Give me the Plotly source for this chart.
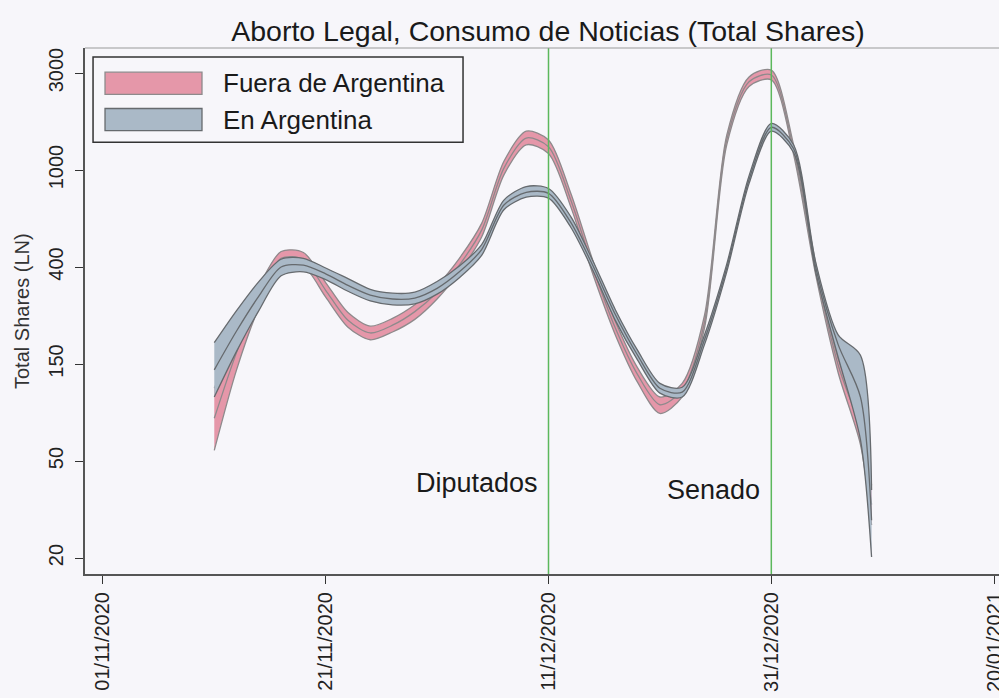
import plotly.graph_objects as go

# fitted ln(total shares) with confidence band, every second day
dates = [
    "2020-11-11", "2020-11-13", "2020-11-15", "2020-11-17", "2020-11-19",
    "2020-11-21", "2020-11-23", "2020-11-25", "2020-11-27", "2020-11-29",
    "2020-12-01", "2020-12-03", "2020-12-05", "2020-12-07", "2020-12-09",
    "2020-12-11", "2020-12-13", "2020-12-15", "2020-12-17", "2020-12-19",
    "2020-12-21", "2020-12-23", "2020-12-25", "2020-12-27", "2020-12-29",
    "2020-12-31", "2021-01-02", "2021-01-04", "2021-01-06", "2021-01-08",
    "2021-01-09",
]

fuera_fit = [4.44, 5.12, 5.69, 6.09, 6.08, 5.76, 5.45, 5.32, 5.40, 5.54,
             5.74, 6.02, 6.38, 7.02, 7.33, 7.24, 6.69, 5.99, 5.37, 4.89,
             4.58, 4.73, 5.43, 7.31, 7.91, 7.98, 7.21, 5.97, 4.99, 4.32,
             3.55]
fuera_hi = [4.75, 5.31, 5.80, 6.16, 6.15, 5.84, 5.53, 5.39, 5.47, 5.61,
            5.81, 6.09, 6.45, 7.09, 7.40, 7.31, 6.76, 6.06, 5.44, 4.96,
            4.66, 4.80, 5.50, 7.36, 7.96, 8.03, 7.26, 6.03, 5.06, 4.47,
            3.75]
fuera_lo = [4.11, 4.94, 5.58, 6.02, 6.01, 5.69, 5.38, 5.25, 5.33, 5.46,
            5.67, 5.95, 6.31, 6.95, 7.26, 7.17, 6.62, 5.92, 5.30, 4.81,
            4.49, 4.66, 5.37, 7.26, 7.86, 7.93, 7.16, 5.91, 4.91, 4.17,
            3.34]

arg_fit = [4.94, 5.34, 5.70, 6.00, 6.02, 5.93, 5.81, 5.71, 5.67, 5.68,
           5.78, 5.95, 6.18, 6.64, 6.77, 6.76, 6.46, 6.01, 5.51, 5.09,
           4.75, 4.71, 5.25, 5.99, 6.90, 7.44, 7.22, 5.99, 5.20, 4.66,
           3.39]
arg_hi = [5.22, 5.55, 5.85, 6.08, 6.09, 5.99, 5.88, 5.77, 5.73, 5.74,
          5.85, 6.01, 6.23, 6.69, 6.83, 6.81, 6.52, 6.06, 5.56, 5.14,
          4.80, 4.76, 5.30, 6.03, 6.94, 7.48, 7.26, 6.04, 5.30, 5.09,
          3.70]
arg_lo = [4.66, 5.13, 5.55, 5.91, 5.95, 5.87, 5.75, 5.65, 5.61, 5.62,
          5.72, 5.89, 6.12, 6.59, 6.72, 6.71, 6.41, 5.96, 5.45, 5.04,
          4.70, 4.66, 5.20, 5.95, 6.86, 7.40, 7.18, 5.94, 5.07, 4.22,
          3.01]

series_names = ["Fuera de Argentina", "En Argentina"]

ytick_vals = [3, 4, 5, 6, 7, 8]
ytick_text = ["20", "50", "150", "400", "1000", "3000"]
xtick_vals = ["2020-11-01", "2020-11-21", "2020-12-11", "2020-12-31", "2021-01-20"]
xtick_text = ["01/11/2020", "21/11/2020", "11/12/2020", "31/12/2020", "20/01/2021"]

events = ["2020-12-11", "2020-12-31"]
event_labels = ["Diputados", "Senado"]
event_label_y = [3.77, 3.70]

BG = "#f7f6fa"
FONT = "Liberation Sans, Arial, sans-serif"
PINK = "#e597a9"
PINK_EDGE = "#8e8a8c"
GREY = "#aab9c7"
GREY_EDGE = "#666a6e"

fig = go.Figure()


def add_band(lo, hi, fit, fill, edge):
    line = dict(color=edge, width=1.3, shape="spline", smoothing=0.8)
    fig.add_trace(go.Scatter(x=dates, y=hi, mode="lines", line=line,
                             showlegend=False, hoverinfo="skip"))
    fig.add_trace(go.Scatter(x=dates, y=lo, mode="lines", line=line,
                             fill="tonexty", fillcolor=fill,
                             showlegend=False, hoverinfo="skip"))
    fig.add_trace(go.Scatter(x=dates, y=fit, mode="lines", line=line,
                             showlegend=False))


add_band(fuera_lo, fuera_hi, fuera_fit, PINK, PINK_EDGE)
add_band(arg_lo, arg_hi, arg_fit, GREY, GREY_EDGE)

# event lines + labels
for d, lab, ly in zip(events, event_labels, event_label_y):
    fig.add_shape(type="line", x0=d, x1=d, y0=0, y1=1, xref="x", yref="paper",
                  line=dict(color="#5cb85c", width=1.5), layer="above")
    fig.add_annotation(x=d, y=ly, text=lab, showarrow=False, xanchor="right",
                       xshift=-9, font=dict(size=27, color="#1a1a1a", family=FONT))

# top frame line
fig.add_shape(type="line", x0=0, x1=1, y0=1, y1=1, xref="paper", yref="paper",
              line=dict(color="#9a9a9a", width=1.2))

# legend box drawn by hand (Stata style wide keys)
fig.add_shape(type="rect", x0=0.0088, x1=0.4136, y0=0.821, y1=0.983,
              xref="paper", yref="paper", line=dict(color="#333333", width=1.5),
              fillcolor=BG, layer="above")
for i, (name, col, edge) in enumerate(zip(series_names, [PINK, GREY], [PINK_EDGE, GREY_EDGE])):
    top = 0.954 - i * 0.069
    fig.add_shape(type="rect", x0=0.0219, x1=0.128, y0=top - 0.042, y1=top,
                  xref="paper", yref="paper", line=dict(color=edge, width=1.3),
                  fillcolor=col, layer="above")
    fig.add_annotation(x=0.149, y=top - 0.021, xref="paper", yref="paper",
                       text=name, showarrow=False, xanchor="left", yanchor="middle",
                       font=dict(size=26, color="#1a1a1a", family=FONT))

# y axis title
fig.add_annotation(x=0, y=0.5, xref="paper", yref="paper", xshift=-63,
                   xanchor="center", yanchor="middle",
                   text="Total Shares (LN)", textangle=-90, showarrow=False,
                   font=dict(size=20, color="#333333", family=FONT))

fig.update_xaxes(
    type="date",
    range=["2020-10-30 09:30", "2021-01-20 10:30"],
    tickmode="array", tickvals=xtick_vals, ticktext=xtick_text,
    tickangle=-90, ticks="outside", ticklen=8, tickcolor="#333333",
    tickfont=dict(size=20, color="#222222", family=FONT),
    ticklabeloverflow="allow", automargin=False,
    showgrid=False, zeroline=False,
    showline=True, linecolor="#555555", linewidth=2,
)
fig.update_yaxes(
    range=[2.835, 8.258],
    tickmode="array", tickvals=ytick_vals, ticktext=ytick_text,
    tickangle=-90, ticks="outside", ticklen=8, tickcolor="#333333",
    tickfont=dict(size=20, color="#222222", family=FONT),
    ticklabelstandoff=4, automargin=False,
    showgrid=False, zeroline=False,
    showline=True, linecolor="#555555", linewidth=2,
)

fig.update_layout(
    width=999, height=698,
    margin=dict(l=85, r=0, t=48, b=124),
    paper_bgcolor=BG, plot_bgcolor=BG,
    title=dict(text="Aborto Legal, Consumo de Noticias (Total Shares)",
               x=0.5066, xref="paper", xanchor="center",
               y=0.956, yref="container", yanchor="middle",
               font=dict(size=28.5, color="#1a1a1a", family=FONT)),
    showlegend=False,
)

# drop the default page margin so the figure fills the window
fig.write_html("out.html", config={"displayModeBar": False}, post_script=(
    "document.body.style.margin='0';"
    "document.body.style.background='" + BG + "';"
))
